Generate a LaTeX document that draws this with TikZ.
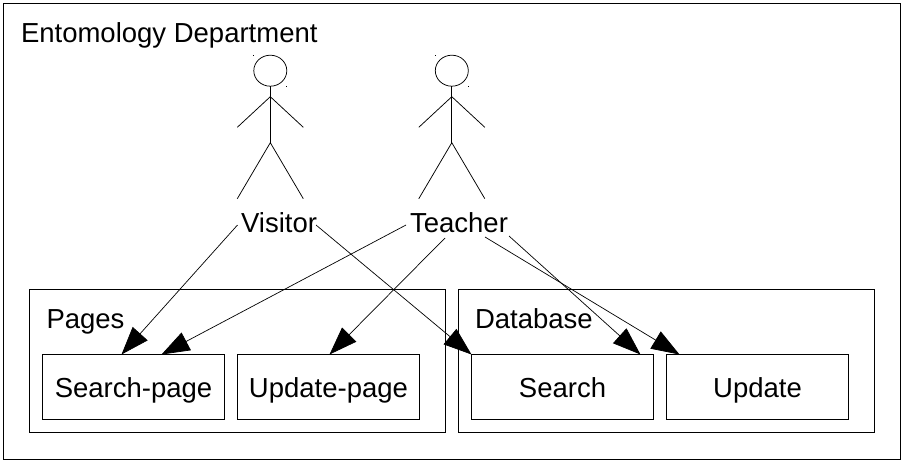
\documentclass[tikz,border=0pt]{standalone}
\usepackage{fontspec}
\setmainfont{Liberation Sans}
\usetikzlibrary{arrows.meta}
\begin{document}
\begin{tikzpicture}[x=1pt,y=-1pt,
  bigtext/.style={font=\fontsize{27.5}{32}\selectfont},
  box/.style={draw=black,line width=0.75pt,fill=white,outer sep=0pt,minimum width=182pt,minimum height=65pt,inner sep=0pt,anchor=north west,bigtext,text height=27.5pt,text depth=6pt},
  frame/.style={draw=black,line width=0.75pt,anchor=north west,inner sep=0pt,outer sep=0pt},
  lbl/.style={inner sep=0pt,outer sep=0pt,bigtext},
  actorline/.style={draw=black,line width=0.75pt},
  conn/.style={draw=black,line width=0.7pt,-{Triangle[length=28pt,width=20pt,fill=black]}},
  speck/.style={fill=black,minimum size=1pt,inner sep=0pt,outer sep=0pt}]
\useasboundingbox (0,0) rectangle (904,463);
\node[frame,minimum width=897pt,minimum height=456pt] (dept) at (3.5,3.5) {};
\node[frame,minimum width=416pt,minimum height=143pt] (pages) at (29.5,289.5) {};
\node[frame,minimum width=416pt,minimum height=143pt] (db) at (458.5,289.5) {};
\node[lbl,anchor=base west] (tdept) at (21,42) {Entomology Department};
\node[lbl,anchor=base west] (tpages) at (46.5,328) {Pages};
\node[lbl,anchor=base west] (tdb) at (475,328) {Database};
\node[box] (sp) at (42.5,354.5) {Search-page};
\node[box] (up) at (237.5,354.5) {Update-page};
\node[box] (s) at (471.5,354.5) {Search};
\node[box] (u) at (666.5,354.5) {Update};
% actors
\foreach \n/\cx/\lab/\lx in {v/270.3/Visitor/279,t/451.8/Teacher/459}{
  \draw[actorline] (\cx,70.7) ellipse [x radius=16.5,y radius=15.5];
  \coordinate (\n neck) at (\cx,86.2);
  \coordinate (\n hip) at (\cx,142.7);
  \coordinate (\n la) at (\cx-33,127.3);
  \coordinate (\n ra) at (\cx+33,127.3);
  \coordinate (\n arm) at (\cx,96.7);
  \coordinate (\n ll) at (\cx-33,198.7);
  \coordinate (\n rl) at (\cx+33,198.7);
  \draw[actorline] (\n neck) -- (\n hip);
  \draw[actorline] (\n la) -- (\n arm) -- (\n ra);
  \draw[actorline] (\n ll) -- (\n hip) -- (\n rl);
  \node[speck] (\n sa) at (\cx-16.8,55) {};
  \node[speck] (\n sb) at (\cx+16.2,86.4) {};
  \node[lbl,text height=27.5pt,text depth=6pt] (\n) at (\lx,222) {\lab};
}
\draw[conn] ([xshift=-41.5pt,yshift=-3pt]v.center) -- ([xshift=79pt]sp.north west);
\draw[conn] ([xshift=37pt,yshift=-3pt]v.center) -- (s.north west);
\draw[conn] ([xshift=-53pt,yshift=-3pt]t.center) -- ([xshift=119pt]sp.north west);
\draw[conn] ([xshift=-14pt,yshift=-16pt]t.center) -- ([xshift=92pt]up.north west);
\draw[conn] ([xshift=50pt,yshift=-14pt]t.center) -- ([xshift=169pt]s.north west);
\draw[conn] ([xshift=26pt,yshift=-15pt]t.center) -- ([xshift=13pt]u.north west);
\end{tikzpicture}
\end{document}
